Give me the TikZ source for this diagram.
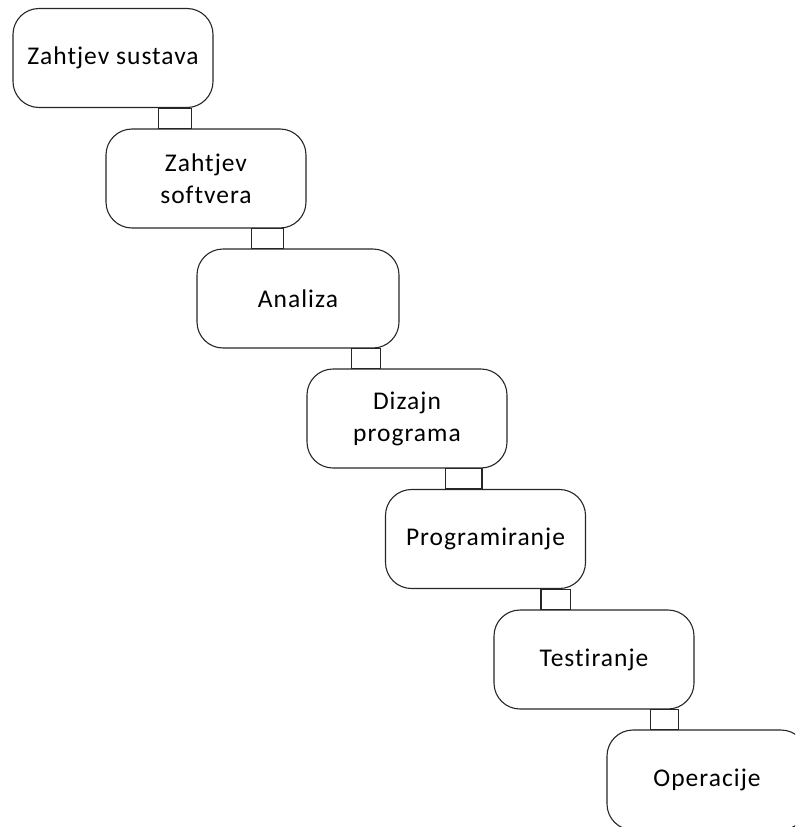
\documentclass[tikz,border=0pt]{standalone}
\usepackage{fontspec}
\setmainfont[Ligatures=NoCommon,LetterSpace=4]{Carlito}
\begin{document}
\begin{tikzpicture}[x=1pt,y=-1pt,
  stage/.style={draw=black!85, line width=1.1pt, rounded corners=26pt,
    minimum width=200pt, minimum height=99pt, inner sep=0pt, align=center,
    font=\fontsize{25.5}{32}\selectfont},
  link/.style={draw=black!85, line width=1.1pt}]
\useasboundingbox (0,0) rectangle (795,827);
\clip (0,0) rectangle (795,827);
\node[stage] (s1) at (113,58) {Zahtjev sustava};
\node[stage] (s2) at (206,178.5) {Zahtjev\\softvera};
\node[stage, minimum width=202pt] (s3) at (298,298.5) {Analiza};
\node[stage] (s4) at (407,418.5) {Dizajn\\programa};
\node[stage] (s5) at (485.5,539) {Programiranje};
\node[stage] (s6) at (594,659.5) {Testiranje};
\node[stage, minimum height=100pt] (s7) at (707,780) {Operacije};
\draw[link] ([xshift=146pt]s1.south west) rectangle ([xshift=86pt]s2.north west);
\draw[link] ([xshift=146pt]s2.south west) rectangle ([xshift=87pt]s3.north west);
\draw[link] ([xshift=155pt]s3.south west) rectangle ([xshift=74pt]s4.north west);
\draw[link] ([xshift=139pt]s4.south west) rectangle ([xshift=97pt]s5.north west);
\draw[link] ([xshift=156pt]s5.south west) rectangle ([xshift=77pt]s6.north west);
\draw[link] ([xshift=157pt]s6.south west) rectangle ([xshift=72pt]s7.north west);
\end{tikzpicture}
\end{document}
